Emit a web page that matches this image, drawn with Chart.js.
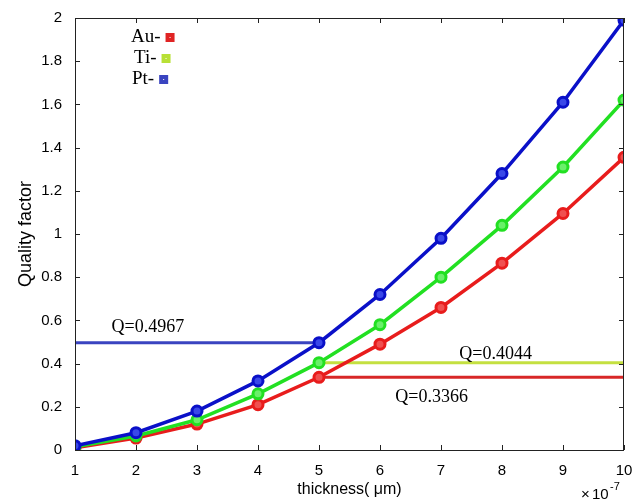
<!DOCTYPE html>
<html>
<head>
<meta charset="utf-8">
<script src="https://cdn.jsdelivr.net/npm/chart.js@4.4.1/dist/chart.umd.min.js"></script>
<style>
  html, body { margin: 0; padding: 0; background: #fff; }
  #wrap { width: 644px; height: 503px; }
</style>
</head>
<body>
<div id="wrap"><canvas id="c" width="644" height="503"></canvas></div>
<script>
// thickness in units of 1e-7
const thickness = [1, 2, 3, 4, 5, 6, 7, 8, 9, 10];
const qAu = [0.01, 0.055, 0.12, 0.21, 0.3366, 0.49, 0.66, 0.865, 1.095, 1.355];
const qTi = [0.015, 0.065, 0.14, 0.26, 0.4044, 0.58, 0.80, 1.04, 1.31, 1.62];
const qPt = [0.02, 0.08, 0.18, 0.32, 0.4967, 0.72, 0.98, 1.28, 1.61, 1.99];

const legendLabels = ["Au-", "Ti-", "Pt-"];
const legendColors = ["#e02424", "#b8e036", "#3a44c0"];

// reference lines at x = 5
const qLines = [
  { label: "Q=0.4967", value: 0.4967, from: 1, to: 5, color: "#3a44c0" },
  { label: "Q=0.4044", value: 0.4044, from: 5, to: 10, color: "#c4e040" },
  { label: "Q=0.3366", value: 0.3366, from: 5, to: 10, color: "#d82828" },
];
// where the Q labels sit (data coords)
const qLabelPos = [[1.6, 0.57], [7.3, 0.445], [6.25, 0.245]];

const pts = (ys) => thickness.map((x, i) => ({ x, y: ys[i] }));

function series(label, ys, color, inner, order) {
  return {
    label, data: pts(ys), borderColor: color, backgroundColor: color,
    borderWidth: 3.5, pointRadius: 5, pointBorderWidth: 3,
    pointBackgroundColor: inner, pointBorderColor: color, order,
  };
}

const lineSets = qLines.map((q, i) => ({
  label: q.label,
  data: [{ x: q.from, y: q.value }, { x: q.to, y: q.value }],
  borderColor: q.color, borderWidth: 3, pointRadius: 0, order: 5 + i,
}));

const frame = {
  id: "frame",
  afterDraw(chart) {
    const { ctx, chartArea: a, scales: { x, y } } = chart;
    ctx.save();
    ctx.strokeStyle = "#222";
    ctx.lineWidth = 1;
    ctx.strokeRect(a.left + 0.5, a.top + 0.5, a.right - a.left - 1, a.bottom - a.top);
    ctx.beginPath();
    x.ticks.forEach(t => {
      const px = Math.round(x.getPixelForValue(t.value)) + 0.5;
      ctx.moveTo(px, a.bottom); ctx.lineTo(px, a.bottom - 5);
      ctx.moveTo(px, a.top); ctx.lineTo(px, a.top + 5);
    });
    y.ticks.forEach(t => {
      const py = Math.round(y.getPixelForValue(t.value)) + 0.5;
      ctx.moveTo(a.left, py); ctx.lineTo(a.left + 5, py);
      ctx.moveTo(a.right, py); ctx.lineTo(a.right - 5, py);
    });
    ctx.stroke();

    // Q labels
    ctx.fillStyle = "#000";
    ctx.font = "18px 'Liberation Serif', serif";
    ctx.textBaseline = "middle";
    qLines.forEach((q, i) => {
      const [lx, ly] = qLabelPos[i];
      ctx.fillText(q.label, x.getPixelForValue(lx), y.getPixelForValue(ly));
    });

    // legend
    ctx.font = "19px 'Liberation Serif', serif";
    legendLabels.forEach((lab, i) => {
      const ty = 37 + i * 21;
      const tx = [131, 134, 132][i];
      ctx.fillStyle = "#000";
      ctx.fillText(lab, tx, ty);
      const w = ctx.measureText(lab).width;
      ctx.fillStyle = legendColors[i];
      ctx.fillRect(tx + w + 5, ty - 4, 9, 9);
      ctx.fillStyle = "#fff";
      ctx.fillRect(tx + w + 9, ty, 1, 1);
    });

    // exponent
    ctx.fillStyle = "#000";
    ctx.font = "15px 'Liberation Sans', sans-serif";
    ctx.fillText("\u00d7", 581, 495);
    ctx.fillText("10", 592, 495);
    ctx.font = "11px 'Liberation Sans', sans-serif";
    ctx.fillText("-7", 610, 487);
    ctx.restore();
  },
};

const tickFont = { family: "'Liberation Sans', sans-serif", size: 15 };

new Chart(document.getElementById("c"), {
  type: "line",
  data: {
    datasets: [
      series("Pt", qPt, "#0a10c8", "#3a48e8", 0),
      series("Ti", qTi, "#22e022", "#6af06a", 1),
      series("Au", qAu, "#e81c1c", "#f05050", 2),
      ...lineSets,
    ],
  },
  options: {
    responsive: false,
    animation: false,
    layout: { padding: { top: 18, right: 20, left: 11, bottom: 0 } },
    plugins: { legend: { display: false }, tooltip: { enabled: false } },
    scales: {
      x: {
        type: "linear", min: 1, max: 10,
        ticks: { stepSize: 1, color: "#000", font: tickFont, padding: 4 },
        grid: { display: false },
        border: { display: false },
        title: { display: true, text: "thickness( \u03bcm)", color: "#000", font: { family: "'Liberation Sans', sans-serif", size: 16 }, padding: { top: 2 } },
        afterFit: s => { s.height = 53; },
      },
      y: {
        min: 0, max: 2,
        ticks: { stepSize: 0.2, color: "#000", font: tickFont, padding: 5,
          callback: v => String(Math.round(v * 10) / 10) },
        grid: { display: false },
        border: { display: false },
        title: { display: true, text: "Quality factor", color: "#000", font: { family: "'Liberation Sans', sans-serif", size: 18 }, padding: { bottom: 2 } },
        afterFit: s => { s.width = 64; },
      },
    },
  },
  plugins: [frame],
});
</script>
</body>
</html>
